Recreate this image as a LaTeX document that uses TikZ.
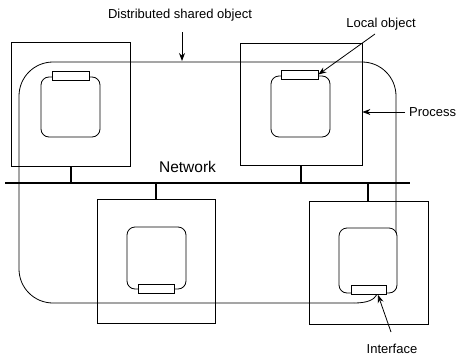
\documentclass[tikz,border=0pt]{standalone}
\usepackage{fontspec}
\setmainfont{Liberation Sans}
\usetikzlibrary{arrows.meta}
\begin{document}
\begin{tikzpicture}[x=1pt,y=-1pt,
  proc/.style={draw,line width=0.8pt,inner sep=0pt,minimum width=#1},
  lobj/.style={draw,line width=0.8pt,rounded corners=8pt,inner sep=0pt,minimum width=59pt},
  tab/.style={draw,line width=0.8pt,fill=white,inner sep=0pt,minimum width=37pt,minimum height=9pt},
  lbl/.style={font=\fontsize{13}{15}\selectfont,inner sep=0pt},
  thin/.style={line width=0.8pt},
  net/.style={line width=2.4pt},
  link/.style={line width=2pt},
  pointer/.style={line width=0.8pt,-{Stealth[length=8pt,width=6pt]}}]
\useasboundingbox (0,0) rectangle (457,356);
% processes
\node[proc=119pt,minimum height=124pt] (P1) at (70.5,104) {};
\node[proc=122pt,minimum height=122pt] (P2) at (301,104) {};
\node[proc=118pt,minimum height=124pt] (P3) at (156,261) {};
\node[proc=119pt,minimum height=123pt] (P4) at (368.5,262.5) {};
% local objects
\node[lobj,minimum height=60pt] (L1) at (70.5,107) {};
\node[lobj,minimum height=61pt] (L2) at (300.5,106.5) {};
\node[lobj,minimum height=62pt] (L3) at (156.5,258) {};
\node[lobj,minimum width=58pt,minimum height=65pt] (L4) at (368,260.5) {};
% interfaces
\node[tab] (T1) at (70.5,75.5) {};
\node[tab] (T2) at (299.5,74.5) {};
\node[tab,minimum width=36pt] (T3) at (156,289) {};
\node[tab,minimum width=35pt] (T4) at (368.5,290) {};
% network
\coordinate (NL) at (5,183);
\coordinate (NR) at (410,183);
\draw[net] (NL) -- (NR);
\node[font=\fontsize{15.5}{18}\selectfont,inner sep=0pt] (net) at (187.5,167) {Network};
\coordinate (N1) at (71,183);
\coordinate (N2) at (301,183);
\coordinate (N3) at (156,183);
\coordinate (N4) at (368,183);
\draw[link] (P1.south -| N1) -- (N1);
\draw[link] (P2.south -| N2) -- (N2);
\draw[link] (N3) -- (P3.north -| N3);
\draw[link] (N4) -- (P4.north -| N4);
% distributed shared object outline
\coordinate (S0) at (396,233);
\coordinate (S2) at (354,303);
\coordinate (S1) at (377,294.5);
\draw[thin,rounded corners=34pt] (S0) -- (396,62) -- (19,62) -- (19,303) -- (S2);
\draw[thin] (S2) .. controls (367,303) and (374,300) .. (S1);
% labels
\node[lbl] (dso) at (180,15) {Distributed shared object};
\node[lbl] (lo) at (381,24) {Local object};
\node[lbl,anchor=west] (pr) at (409,112) {Process};
\node[lbl] (itf) at (392,349) {Interface};
\coordinate (a1) at (182,32);
\coordinate (a2) at (375,34);
\coordinate (a3) at (405,112);
\coordinate (a4) at (391,332);
\draw[pointer] (a1) -- (182,61);
\draw[pointer] (a2) -- (T2.east);
\draw[pointer] (a3) -- (P2.east |- a3);
\draw[pointer] (a4) -- (T4.south -| 378,0);
\end{tikzpicture}
\end{document}
